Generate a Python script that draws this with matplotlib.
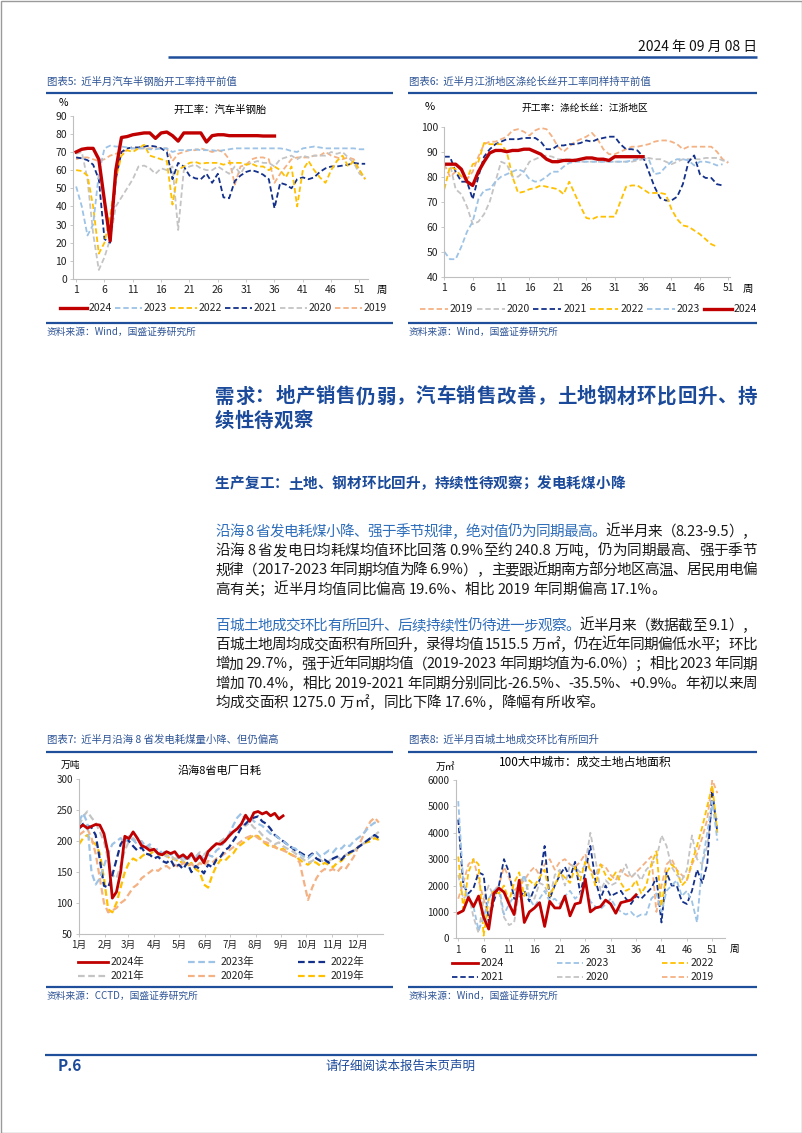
import matplotlib
matplotlib.use("Agg")
import matplotlib.pyplot as plt
import numpy as np
from matplotlib.patches import Rectangle

plt.rcParams['font.family'] = ['Noto Sans CJK SC', 'DejaVu Sans']
plt.rcParams['axes.unicode_minus'] = False

W, H = 802, 1133

# ---------------- data ----------------
# chart 5: 汽车半钢胎开工率 (%), weekly
WEEKS = list(range(1, 53))
TIRE_2024 = [70, 71.5, 72, 72, 66, 43, 21, 60, 78, 78.5,
             79.5, 80, 80.5, 80.5, 77.5, 80.5, 81, 79, 76, 80.5,
             80.5, 80.5, 80.5, 75.5, 79, 79.5, 79.5, 79, 79, 79,
             79, 79, 79, 78.8, 78.8, 78.8]
TIRE_2023 = [51, 40, 24, 30, 58, 72, 73.5, 73, 73, 72.5,
             72, 72, 72, 71.5, 71.5, 72, 72, 70, 71, 71,
             71, 71.5, 71, 71, 71, 70.5, 71, 71.5, 72, 72,
             72, 72, 72, 72, 72, 72, 72, 71.5, 70.5, 70,
             72, 72.5, 73, 72.5, 72, 72, 72, 72, 72, 72,
             71.5, 71.5]
TIRE_2022 = [60, 59.5, 57, 40, 14, 20, 35, 55, 68, 71,
             70, 72, 74, 68, 67, 66, 65, 41, 60, 62,
             64, 64.5, 63.5, 64, 64, 64, 63, 64, 64, 64,
             63, 63.5, 62, 62, 60, 62, 60, 56, 62, 40,
             60, 65, 60, 56, 53, 60, 65, 68, 62, 65,
             60, 55]
TIRE_2021 = [67, 66.5, 65.5, 63, 55, 22, 20, 55, 70, 72,
             72.5, 72.5, 73, 73.5, 73, 72, 70, 55, 64, 62,
             57, 55.5, 55, 58, 53, 58, 45, 44.5, 54, 57,
             59, 60, 59, 57.5, 55, 39, 53, 52, 50, 55,
             56, 55, 56, 59, 61, 62, 62, 62.5, 63, 64,
             63.5, 63.5]
TIRE_2020 = [69, 70, 55, 25, 5, 12, 22, 40, 45, 50,
             55, 62, 62.5, 61, 58, 61, 60, 62, 27, 60,
             62, 63, 61, 60, 60, 62, 60, 58, 62, 58,
             63, 64, 65, 64, 64, 62, 66, 67, 68, 66,
             68, 67, 68, 68, 68, 70, 69, 70, 67, 64,
             58, 56]
TIRE_2019 = [66, 67, 67, 66, 65, 66, 68, 69, 70, 71,
             72, 72, 72, 72, 72, 72, 72, 65, 69, 70,
             71, 71, 72, 71, 70, 71, 70, 66, 52, 62,
             63, 66, 67, 67, 66, 53, 58, 62, 66, 67,
             67, 67, 68, 68, 70, 68, 67, 66, 67, 66,
             60, 55]

# chart 6: 涤纶长丝开工率 江浙地区 (%), weekly
POY_2019 = [85, 80, 82, 80, 79, 82, 88, 93, 94, 94,
            95, 96, 98.5, 99, 98, 96.5, 98.5, 99.5, 99, 96,
            92, 90, 92, 94, 95, 96, 97.5, 95, 91, 89,
            89, 90, 91, 92, 92, 92.5, 93, 94, 94.5, 94.5,
            94, 93, 91, 92, 92, 92, 92, 92, 90, 87,
            85.5]
POY_2020 = [85, 85, 75, 73, 68, 61, 62, 65, 70, 78,
            86, 85, 80, 80, 82, 86, 87, 88, 88.5, 88,
            87, 87, 87, 87, 86, 86, 86, 86, 86, 86,
            86, 86, 86, 86, 86.5, 87, 87.5, 87, 87, 86,
            85, 86, 87, 87, 87, 87, 87.5, 87.5, 87.5, 86.5,
            86]
POY_2021 = [88, 88, 82, 78, 78, 71, 80, 88, 91, 93,
            94, 95, 95, 95, 95.5, 95.5, 95.5, 94, 91, 91,
            92.5, 92.5, 93, 93, 93.5, 94.5, 94, 95, 95.5, 96,
            96, 93, 91, 91, 90.5, 88, 82, 76, 71.5, 70.5,
            70.5, 72, 77, 86, 88.5, 81, 79.5, 79.5, 77, 76.5]
POY_2022 = [75, 84, 83, 80, 79, 85, 86, 93.5, 93, 93,
            93, 90, 80, 73.5, 74, 75, 75.5, 76.5, 76, 75.5,
            75, 73, 78, 73, 68, 63.5, 63, 64, 64, 64,
            64, 70, 76, 76.5, 76.5, 75, 73.5, 73.5, 73.5, 73,
            67, 63, 60.5, 60, 58.5, 57, 55, 53, 52]
POY_2023 = [50, 47, 47, 52, 58, 62, 71, 74.5, 75, 78,
            80, 81, 82, 83, 82, 79, 78, 78.5, 80, 82,
            82, 84, 85.5, 86, 86, 86, 86, 86, 86, 86,
            86, 86, 86, 86.5, 87, 87.5, 87, 81, 81.5, 84,
            86, 87, 87, 86.5, 84.5, 86, 86, 85.5, 84.5, 85]
POY_2024 = [85, 85, 85, 83, 78, 76.5, 82, 86, 89.5, 90.5,
            90.5, 90, 90.5, 90.5, 91, 91, 90, 89, 87, 86,
            86, 86.5, 86.5, 86.5, 87, 87.5, 87.5, 87, 87, 86.5,
            88, 88, 88, 88, 88, 88]

# chart 7: 沿海8省电厂日耗 (万吨), sampled every 5 days
DAYS = np.arange(0, 361, 5)
MONTH_START = [0, 31, 59, 90, 120, 151, 181, 212, 243, 273, 304, 334]
MONTH_LABELS = ['1月', '2月', '3月', '4月', '5月', '6月', '7月', '8月', '9月', '10月', '11月', '12月']
COAL_2024 = [222, 226, 221, 224, 227, 226, 212, 180, 108, 118,
             150, 208, 204, 215, 205, 193, 190, 185, 187, 180,
             178, 183, 180, 183, 174, 178, 172, 180, 168, 176,
             165, 183, 190, 196, 195, 200, 208, 215, 220, 228,
             242, 232, 246, 248, 244, 247, 241, 245, 236, 241]
COAL_2023 = [232, 245, 230, 150, 130, 140, 160, 180, 195, 200,
             205, 198, 208, 202, 195, 200, 190, 195, 185, 188,
             180, 185, 178, 182, 170, 175, 168, 178, 172, 180,
             170, 178, 175, 185, 190, 200, 210, 225, 238, 245,
             236, 240, 232, 228, 225, 218, 212, 210, 205, 200,
             195, 190, 188, 180, 175, 172, 178, 182, 175, 180,
             185, 182, 190, 188, 195, 192, 200, 205, 210, 218,
             225, 230, 228]
COAL_2022 = [220, 228, 225, 222, 210, 170, 128, 125, 145, 170,
             195, 205, 200, 192, 185, 190, 180, 178, 172, 175,
             168, 165, 170, 158, 162, 155, 165, 150, 160, 155,
             148, 162, 158, 170, 175, 185, 190, 200, 210, 222,
             228, 235, 238, 240, 232, 228, 220, 210, 205, 200,
             195, 190, 185, 182, 178, 175, 180, 172, 168, 170,
             165, 172, 175, 170, 178, 182, 185, 190, 195, 200,
             205, 210, 205]
COAL_2021 = [225, 240, 248, 238, 230, 215, 200, 170, 145, 140,
             160, 185, 200, 205, 198, 200, 192, 190, 185, 180,
             182, 175, 178, 170, 175, 168, 172, 178, 175, 182,
             178, 185, 190, 195, 200, 205, 210, 215, 220, 228,
             225, 230, 222, 218, 210, 205, 200, 195, 198, 192,
             188, 185, 180, 175, 170, 165, 168, 172, 170, 165,
             168, 172, 175, 170, 178, 180, 185, 188, 195, 200,
             205, 210, 215]
COAL_2020 = [210, 215, 220, 205, 180, 140, 100, 85, 88, 92,
             100, 105, 115, 125, 130, 140, 145, 150, 155, 152,
             158, 160, 155, 162, 158, 165, 160, 163, 158, 165,
             160, 168, 165, 172, 175, 180, 185, 190, 195, 200,
             205, 208, 210, 205, 200, 198, 195, 190, 188, 185,
             182, 178, 175, 165, 135, 105, 125, 140, 150, 155,
             152, 155, 150, 158, 155, 165, 175, 190, 205, 220,
             232, 238, 230]
COAL_2019 = [195, 205, 210, 200, 195, 180, 140, 90, 85, 100,
             125, 150, 165, 172, 168, 175, 180, 178, 185, 180,
             175, 178, 170, 172, 165, 168, 160, 165, 155, 150,
             130, 125, 145, 160, 170, 168, 175, 180, 190, 195,
             200, 205, 210, 208, 200, 195, 190, 192, 185, 188,
             182, 178, 175, 170, 165, 162, 168, 165, 160, 165,
             162, 158, 165, 168, 175, 180, 185, 190, 195, 198,
             200, 205, 202]

# chart 8: 100大中城市成交土地占地面积 (万㎡), weekly
LAND_2024 = [950, 1050, 1550, 1200, 1600, 800, 350, 1700, 1900, 1750,
             1300, 900, 2200, 600, 1000, 1150, 1350, 450, 1400, 1150,
             1150, 1600, 850, 1300, 1350, 2250, 1000, 1150, 1200, 1450,
             1300, 950, 1350, 1400, 1450, 1650]
LAND_2023 = [5200, 2100, 1500, 1200, 300, 800, 1500, 1800, 2000, 900,
             1300, 1600, 2000, 2400, 1500, 1200, 1500, 1800, 1400, 1500,
             1300, 1600, 1800, 1500, 1700, 2000, 1400, 1200, 1100, 1300,
             1500, 1200, 1000, 900, 1000, 800, 900, 900, 1500, 1700,
             1000, 1800, 2000, 2200, 1600, 1800, 1400, 600, 2800, 4000,
             5200, 3700]
LAND_2022 = [3100, 1100, 2500, 3000, 2800, 100, 1500, 1800, 1700, 2000,
             1400, 2100, 2500, 1600, 2200, 2000, 2300, 2600, 1600, 2000,
             2500, 2300, 2100, 2700, 2200, 2900, 2600, 2000, 2800, 2400,
             2200, 2500, 2100, 1800, 1900, 2200, 1700, 2000, 2800, 3300,
             1200, 2500, 2800, 2600, 2000, 2200, 2900, 3500, 4200, 5000,
             5800, 4000]
LAND_2021 = [4500, 2000, 1700, 1900, 2500, 2400, 600, 1400, 2000, 3000,
             2500, 1500, 1500, 1800, 1400, 1900, 2200, 3500, 1500, 2000,
             2400, 2700, 2300, 2900, 1700, 2500, 3500, 2200, 1500, 2000,
             1600, 1700, 1800, 1500, 1300, 1600, 1500, 1700, 1900, 2300,
             600, 2500, 2000, 2000, 1400, 1300, 1800, 2600, 2100, 2800,
             5600, 4000]
LAND_2020 = [2400, 1500, 1700, 800, 200, 1500, 2000, 1600, 1800, 800,
             500, 600, 1800, 2400, 1600, 1500, 2100, 2000, 1500, 2400,
             2600, 2000, 2800, 2700, 2500, 2800, 4000, 3000, 1800, 2200,
             2000, 2100, 2400, 2800, 2300, 2500, 2200, 2600, 2800, 3000,
             3900, 3500, 2700, 2400, 2200, 2600, 3900, 3000, 2800, 3500,
             5000, 4500]
LAND_2019 = [1500, 2100, 2800, 3000, 2200, 1500, 800, 1800, 2000, 2700,
             2300, 1800, 2000, 2200, 2500, 2700, 2400, 2800, 3000, 2600,
             2900, 3000, 2800, 2700, 2900, 3200, 2600, 2400, 2800, 2700,
             2400, 2200, 2600, 2400, 2300, 2500, 2700, 2900, 3100, 1000,
             2000, 2800, 3000, 2600, 2400, 2200, 2800, 3200, 3800, 4500,
             6000, 5500]

# ---------------- styles ----------------
NAVY_TXT = '#1B4A9A'
TITLE_BLUE = '#2F5597'
LEAD_BLUE = '#2F6EBA'
RULE = '#1F4E9B'
RED, LBLUE, GOLD, NAVY, GREY, SALMON = '#C00000', '#9DC3E6', '#FFC000', '#13308A', '#C4C4C4', '#F4B183'


def solid(c, lw=2.2):
    return dict(color=c, lw=lw, ls='-')


def dash(c, lw=1.3):
    return dict(color=c, lw=lw, ls=(0, (3, 1.6)))


fig = plt.figure(figsize=(W / 100, H / 100), dpi=100)
page = fig.add_axes([0, 0, 1, 1])
page.set_xlim(0, W)
page.set_ylim(H, 0)
page.axis('off')
renderer = fig.canvas.get_renderer()


def ax_px(x0, y0, x1, y1):
    return fig.add_axes([x0 / W, 1 - y1 / H, (x1 - x0) / W, (y1 - y0) / H])


def style_axes(ax, fs=7.5):
    for s in ['top', 'right']:
        ax.spines[s].set_visible(False)
    for s in ['left', 'bottom']:
        ax.spines[s].set_color('#BFBFBF')
        ax.spines[s].set_linewidth(0.8)
    ax.tick_params(length=2.5, width=0.6, color='#BFBFBF', labelsize=fs,
                   labelcolor='#222222', pad=2)
    ax.patch.set_alpha(0)


def rule(x0, x1, y, lw=1.6):
    page.plot([x0, x1], [y, y], color=RULE, lw=lw, solid_capstyle='butt')


def legend_item(x0, x1, y, label, st, fs=7.5):
    page.plot([x0, x1], [y, y], **st)
    page.text(x1 + 2, y, label, fontsize=fs, va='center', ha='left', color='#222222')


def split_tokens(s):
    out, buf = [], ''
    for ch in s:
        if ord(ch) < 128 and ch != ' ':
            buf += ch
        else:
            if buf:
                out.append(buf)
                buf = ''
            out.append(ch)
    if buf:
        out.append(buf)
    return out


def text_width(s, fs, weight):
    t = page.text(0, 0, s, fontsize=fs, weight=weight)
    w = t.get_window_extent(renderer).width
    t.remove()
    return w


def draw_line(segs, y, x0=215, x1=757, fs=10.5, weight='normal', justify=True):
    toks = []
    for s, c in segs:
        toks += [(t, c) for t in split_tokens(s)]
    widths = [text_width(t, fs, weight) for t, _ in toks]
    gap = 0
    if justify and len(toks) > 1:
        gap = (x1 - x0 - sum(widths)) / (len(toks) - 1)
    x = x0
    for (t, c), w in zip(toks, widths):
        page.text(x, y, t, fontsize=fs, color=c, weight=weight, va='center', ha='left')
        x += w + gap


# ---------------- page furniture ----------------
page.add_patch(Rectangle((0.5, 0.5), W - 1, H - 1, fill=False, ec='#9A9A9A', lw=1))
page.text(757, 47, '2024 年 09 月 08 日', fontsize=10, ha='right', va='center', color='#111111')
rule(168, 757, 57, lw=1.8)

for x0, x1, title, src in [(46, 393, '图表5:  近半月汽车半钢胎开工率持平前值', 'Wind'),
                           (408, 757, '图表6:  近半月江浙地区涤纶长丝开工率同样持平前值', 'Wind')]:
    page.text(x0 + 1, 82, title, fontsize=7.5, color=TITLE_BLUE, style='italic', va='center')
    rule(x0, x1, 92.7)
    rule(x0, x1, 323)
    page.text(x0 + 1, 332, '资料来源：%s，国盛证券研究所' % src, fontsize=7, color=TITLE_BLUE,
              style='italic', va='center')

for x0, x1, title, src in [(46, 393, '图表7:  近半月沿海 8 省发电耗煤量小降、但仍偏高', 'CCTD'),
                           (408, 757, '图表8:  近半月百城土地成交环比有所回升', 'Wind')]:
    page.text(x0 + 1, 740, title, fontsize=7.5, color=TITLE_BLUE, style='italic', va='center')
    rule(x0, x1, 752.3)
    rule(x0, x1, 987)
    page.text(x0 + 1, 996, '资料来源：%s，国盛证券研究所' % src, fontsize=7, color=TITLE_BLUE,
              style='italic', va='center')

# headings and body text
draw_line([('需求：地产销售仍弱，汽车销售改善，土地钢材环比回升、持', NAVY_TXT)], 397, fs=14, weight='bold')
draw_line([('续性待观察', NAVY_TXT)], 421, fs=14, weight='bold', justify=False)
draw_line([('生产复工：土地、钢材环比回升，持续性待观察；发电耗煤小降', NAVY_TXT)], 483, fs=10.5,
          weight='bold', justify=False)

BLACK = '#1A1A1A'
PARA1 = [
    [('沿海 8 省发电耗煤小降、强于季节规律，绝对值仍为同期最高。', LEAD_BLUE), ('近半月来（8.23-9.5），', BLACK)],
    [('沿海 8 省发电日均耗煤均值环比回落 0.9%至约 240.8 万吨，仍为同期最高、强于季节', BLACK)],
    [('规律（2017-2023 年同期均值为降 6.9%），主要跟近期南方部分地区高温、居民用电偏', BLACK)],
    [('高有关；近半月均值同比偏高 19.6%、相比 2019 年同期偏高 17.1%。', BLACK)],
]
PARA2 = [
    [('百城土地成交环比有所回升、后续持续性仍待进一步观察。', LEAD_BLUE), ('近半月来（数据截至 9.1），', BLACK)],
    [('百城土地周均成交面积有所回升，录得均值 1515.5 万㎡，仍在近年同期偏低水平；环比', BLACK)],
    [('增加 29.7%，强于近年同期均值（2019-2023 年同期均值为-6.0%）；相比 2023 年同期', BLACK)],
    [('增加 70.4%，相比 2019-2021 年同期分别同比-26.5%、-35.5%、+0.9%。年初以来周', BLACK)],
    [('均成交面积 1275.0 万㎡，同比下降 17.6%，降幅有所收窄。', BLACK)],
]
for i, segs in enumerate(PARA1):
    draw_line(segs, 532 + i * 19.2, justify=i < len(PARA1) - 1)
for i, segs in enumerate(PARA2):
    draw_line(segs, 626 + i * 19.2, justify=i < len(PARA2) - 1)

# footer
rule(45, 757, 1055, lw=1.6)
page.text(58, 1066, 'P.6', fontsize=11, weight='bold', style='italic', color=NAVY_TXT, va='center')
page.text(400, 1066, '请仔细阅读本报告末页声明', fontsize=9, style='italic', color=NAVY_TXT,
          va='center', ha='center')

# ---------------- chart 5 ----------------
ax5 = ax_px(73.3, 115.7, 368, 279)
series5 = [(TIRE_2024, '2024', solid(RED, 2.4)), (TIRE_2023, '2023', dash(LBLUE)),
           (TIRE_2022, '2022', dash(GOLD)), (TIRE_2021, '2021', dash(NAVY)),
           (TIRE_2020, '2020', dash(GREY)), (TIRE_2019, '2019', dash(SALMON))]
for vals, lab, st in series5[::-1]:
    ax5.plot(WEEKS[:len(vals)], vals, **st)
ax5.set_xlim(0.5, 52.5)
ax5.set_ylim(0, 90)
ax5.set_yticks(range(0, 91, 10))
ax5.set_xticks(range(1, 52, 5))
style_axes(ax5)
page.text(377, 290, '周', fontsize=7.5, va='center')
page.text(63, 103, '%', fontsize=7.5, va='center', ha='center')
page.text(220, 110, '开工率：汽车半钢胎', fontsize=7.5, va='center', ha='center')
for i, (vals, lab, st) in enumerate(series5):
    legend_item(60 + i * 55, 87 + i * 55, 308, lab, st)

# ---------------- chart 6 ----------------
ax6 = ax_px(444.3, 126.7, 730, 276.7)
series6 = [(POY_2019, '2019', dash(SALMON)), (POY_2020, '2020', dash(GREY)),
           (POY_2021, '2021', dash(NAVY)), (POY_2022, '2022', dash(GOLD)),
           (POY_2023, '2023', dash(LBLUE)), (POY_2024, '2024', solid(RED, 2.4))]
for vals, lab, st in series6:
    ax6.plot(WEEKS[:len(vals)], vals, **st)
ax6.set_xlim(1, 51.3)
ax6.set_ylim(40, 100)
ax6.set_yticks(range(40, 101, 10))
ax6.set_xticks(range(1, 52, 5))
style_axes(ax6)
page.text(743, 289, '周', fontsize=7.5, va='center')
page.text(430, 107, '%', fontsize=8, va='center', ha='center')
page.text(585, 108, '开工率：涤纶长丝：江浙地区', fontsize=7, va='center', ha='center')
for i, (vals, lab, st) in enumerate(series6):
    legend_item(420 + i * 56.7, 448 + i * 56.7, 309.3, lab, st)

# ---------------- chart 7 ----------------
ax7 = ax_px(79, 779.3, 383, 934)
series7 = [(COAL_2024, '2024年', solid(RED, 2.0)), (COAL_2023, '2023年', dash(LBLUE, 1.6)),
           (COAL_2022, '2022年', dash(NAVY, 1.6)), (COAL_2021, '2021年', dash(GREY, 1.6)),
           (COAL_2020, '2020年', dash(SALMON, 1.6)), (COAL_2019, '2019年', dash(GOLD, 1.6))]
for vals, lab, st in series7[::-1]:
    ax7.plot(DAYS[:len(vals)], vals, **st)
ax7.set_xlim(0, 365)
ax7.set_ylim(50, 300)
ax7.set_yticks(range(50, 301, 50))
ax7.set_xticks(MONTH_START)
ax7.set_xticklabels(MONTH_LABELS)
style_axes(ax7, fs=7)
page.text(70, 765, '万吨', fontsize=7, va='center', ha='center', style='italic')
page.text(220, 771, '沿海8省电厂日耗', fontsize=8, va='center', ha='center')
for i, (vals, lab, st) in enumerate(series7):
    col, row = i % 3, i // 3
    legend_item(78.3 + col * 110, 108.3 + col * 110, 961.7 + row * 14, lab, st)

# ---------------- chart 8 ----------------
ax8 = ax_px(455.7, 780, 725, 938.3)
series8 = [(LAND_2024, '2024', solid(RED, 2.0)), (LAND_2023, '2023', dash(LBLUE)),
           (LAND_2022, '2022', dash(GOLD)), (LAND_2021, '2021', dash(NAVY)),
           (LAND_2020, '2020', dash(GREY)), (LAND_2019, '2019', dash(SALMON))]
for vals, lab, st in series8[::-1]:
    ax8.plot(WEEKS[:len(vals)], vals, **st)
ax8.set_xlim(0.5, 53.5)
ax8.set_ylim(0, 6000)
ax8.set_yticks(range(0, 6001, 1000))
ax8.set_xticks(range(1, 52, 5))
style_axes(ax8, fs=7)
page.text(730, 949, '周', fontsize=7, va='center')
page.text(445, 767, '万㎡', fontsize=7, va='center', ha='center', style='italic')
page.text(585, 762, '100大中城市：成交土地占地面积', fontsize=8.5, va='center', ha='center')
for i, (vals, lab, st) in enumerate(series8):
    col, row = i % 3, i // 3
    legend_item(451.7 + col * 105, 478.3 + col * 105, 963.3 + row * 13.4, lab, st)

fig.savefig('out.png', dpi=100)
